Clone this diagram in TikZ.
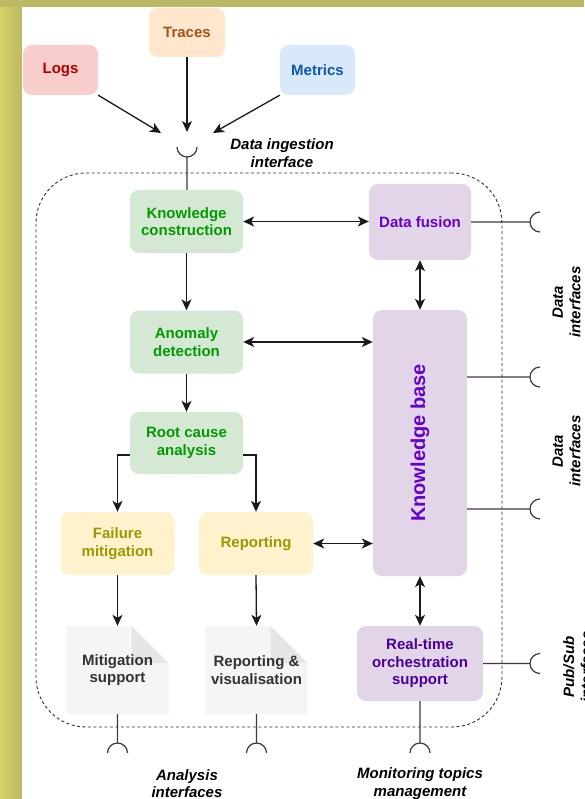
\documentclass[tikz,border=0pt]{standalone}
\usepackage{fontspec}
\setmainfont{Liberation Sans}
\usetikzlibrary{arrows.meta,calc}
\definecolor{olivebg}{HTML}{C6C16A}
\definecolor{olivedark}{HTML}{BDB866}
\definecolor{logsfill}{HTML}{F8CECC}
\definecolor{logstext}{HTML}{B20000}
\definecolor{tracesfill}{HTML}{FFE6CC}
\definecolor{tracestext}{HTML}{A0561A}
\definecolor{metricsfill}{HTML}{DAE8FC}
\definecolor{metricstext}{HTML}{0B58A8}
\definecolor{greenfill}{HTML}{D5E8D4}
\definecolor{greentext}{HTML}{009900}
\definecolor{yellowfill}{HTML}{FFF2CC}
\definecolor{yellowtext}{HTML}{999900}
\definecolor{purplefill}{HTML}{E1D5E7}
\definecolor{purpletext}{HTML}{6600CC}
\definecolor{darkpurple}{HTML}{4C0099}
\definecolor{docfill}{HTML}{F5F5F5}
\definecolor{docfold}{HTML}{E6E6E6}
\definecolor{doctext}{HTML}{333333}
\definecolor{linecol}{HTML}{1A1A1A}
\newcommand\docsheet[1]{%
  \fill[docfill] ($(#1)+(-51,-44)$) -- ($(#1)+(14,-44)$) -- ($(#1)+(51,-7)$) -- ($(#1)+(51,44)$) -- ($(#1)+(-51,44)$) -- cycle;
  \fill[docfold] ($(#1)+(14,-44)$) -- ($(#1)+(14,-7)$) -- ($(#1)+(51,-7)$) -- cycle;
}
\tikzset{
  every node/.style={font=\fontsize{15}{17.5}\selectfont\bfseries, align=center, inner sep=0pt},
  card/.style={rounded corners=9pt, fill=#1},
  sz/.style 2 args={minimum width=#1pt, minimum height=#2pt},
  lbl/.style={font=\fontsize{15}{17.5}\selectfont\bfseries\itshape, text=black},
  tip/.tip={Stealth[length=11pt,width=10pt,inset=3pt]},
  arr/.style={draw=linecol, line width=1.3pt, -tip},
  arrboth/.style={draw=linecol, line width=1.3pt, tip-tip},
  iface/.style={draw=linecol!85, line width=1.2pt},
  frame/.style={draw=linecol!90, line width=0.9pt, dash pattern=on 3pt off 2.5pt, rounded corners=50pt},
}
\begin{document}
\begin{tikzpicture}[x=1pt,y=-1pt]
\useasboundingbox (0,0) rectangle (584,799);
\clip (0,0) rectangle (584,799);
% background
\fill[olivebg] (0,0) rectangle (584,799);
\shade[left color=olivebg!80!yellow!90!white, right color=olivedark] (0,0) rectangle (22,799);
\fill[olivedark] (0,0) rectangle (584,7);
\fill[white] (22,7) rectangle (584,799);

% container
\node[frame, sz={466}{554}] (frame) at (269,450) {};

% sources
\node[card=logsfill, sz={75}{50}, text=logstext] (logs) at (60.5,70) {Logs};
\node[card=tracesfill, sz={76}{49}, text=tracestext] (traces) at (187,32.5) {Traces};
\node[card=metricsfill, sz={75}{50}, text=metricstext] (metrics) at (317.5,70) {Metrics};

% green
\node[card=greenfill, sz={113}{63}, text=greentext] (kc) at (186.5,221.5) {Knowledge\\construction};
\node[card=greenfill, sz={113}{63}, text=greentext] (ad) at (186.5,342) {Anomaly\\detection};
\node[card=greenfill, sz={113}{62}, text=greentext] (rca) at (186.5,443) {Root cause\\analysis};

% yellow
\node[card=yellowfill, sz={114}{63}, text=yellowtext] (fm) at (117.5,543.5) {Failure\\mitigation};
\node[card=yellowfill, sz={114}{63}, text=yellowtext] (rep) at (256,543.5) {Reporting};

% documents
\coordinate (msC) at (117.5,670);
\coordinate (rvC) at (256.5,670);
\docsheet{msC}
\docsheet{rvC}
\node[sz={102}{88}, text=doctext] (ms) at (msC) {Mitigation\\support};
\node[sz={102}{88}, text=doctext] (rv) at (rvC) {Reporting \&\\visualisation};

% purple
\node[card=purplefill, sz={102}{76}, text=purpletext] (df) at (420,222) {Data fusion};
\node[card=purplefill, sz={94}{266}, text=purpletext] (kb) at (420,443) {};
\node[rotate=90, font=\fontsize{20}{24}\selectfont\bfseries, text=purpletext] (kbt) at (kb.center) {Knowledge base};
\node[card=purplefill, sz={126}{75}, text=darkpurple] (rt) at (420,663.5) {Real-time\\orchestration\\support};

% ingestion
\coordinate (inL) at (161,133);
\coordinate (inT) at (187,132);
\coordinate (inM) at (213,133);
\coordinate (cupI) at (187,157);
\draw[arr] (logs.south east) -- (inL);
\draw[arr] (traces.south) -- (inT);
\draw[arr] (metrics.south west) -- (inM);
\draw[iface] (kc.north -| cupI) -- (cupI) arc[start angle=270,end angle=180,radius=10pt];
\draw[iface] (cupI) arc[start angle=270,end angle=360,radius=10pt];
\node[lbl] (ingl) at (282,153) {Data ingestion\\interface};

% flow arrows
\draw[arr] (kc.south) -- (ad.north);
\draw[arr] (ad.south) -- (rca.north);
\draw[arr] ([yshift=-12pt]rca.west) -| (fm.north);
\draw[arr] ([yshift=-12pt]rca.east) -| (rep.north);
\draw[arr] (fm.south) -- (ms.north);
\draw[arr] (rep.south) -- (rv.north);

\draw[arrboth] (kc.east) -- (kc.east -| df.west);
\draw[arrboth] (ad.east) -- (ad.east -| kb.west);
\draw[arrboth] (rep.east) -- (rep.east -| kb.west);
\draw[arrboth] (df.south) -- (kb.north);
\draw[arrboth] (kb.south) -- (rt.north);

% right interfaces
\coordinate (dr1) at (530,222);
\coordinate (dr2) at (530,377);
\coordinate (dr3) at (530,509);
\coordinate (dr4) at (530,663.5);
\draw[iface] (df.east |- dr1) -- (dr1) arc[start angle=180,end angle=90,radius=10pt];
\draw[iface] (dr1) arc[start angle=180,end angle=270,radius=10pt];
\draw[iface] (kb.east |- dr2) -- (dr2) arc[start angle=180,end angle=90,radius=10pt];
\draw[iface] (dr2) arc[start angle=180,end angle=270,radius=10pt];
\draw[iface] (kb.east |- dr3) -- (dr3) arc[start angle=180,end angle=90,radius=10pt];
\draw[iface] (dr3) arc[start angle=180,end angle=270,radius=10pt];
\draw[iface] (rt.east |- dr4) -- (dr4) arc[start angle=180,end angle=90,radius=10pt];
\draw[iface] (dr4) arc[start angle=180,end angle=270,radius=10pt];

\node[lbl, rotate=90] (di1) at (566.5,302) {Data\\interfaces};
\node[lbl, rotate=90] (di2) at (566.5,451) {Data\\interfaces};
\node[lbl, rotate=90] (psi) at (577.5,667) {Pub/Sub\\interfaces};

% bottom interfaces
\coordinate (db1) at (117.5,743);
\coordinate (db2) at (256.5,743);
\coordinate (db3) at (420,743);
\draw[iface] (ms.south) -- (db1) arc[start angle=90,end angle=180,radius=10pt];
\draw[iface] (db1) arc[start angle=90,end angle=0,radius=10pt];
\draw[iface] (rv.south) -- (db2) arc[start angle=90,end angle=180,radius=10pt];
\draw[iface] (db2) arc[start angle=90,end angle=0,radius=10pt];
\draw[iface] (rt.south) -- (db3) arc[start angle=90,end angle=180,radius=10pt];
\draw[iface] (db3) arc[start angle=90,end angle=0,radius=10pt];

\node[lbl] (ail) at (187,783.5) {Analysis\\interfaces};
\node[lbl] (mtl) at (420,783.5) {Monitoring topics\\management};
\end{tikzpicture}
\end{document}
